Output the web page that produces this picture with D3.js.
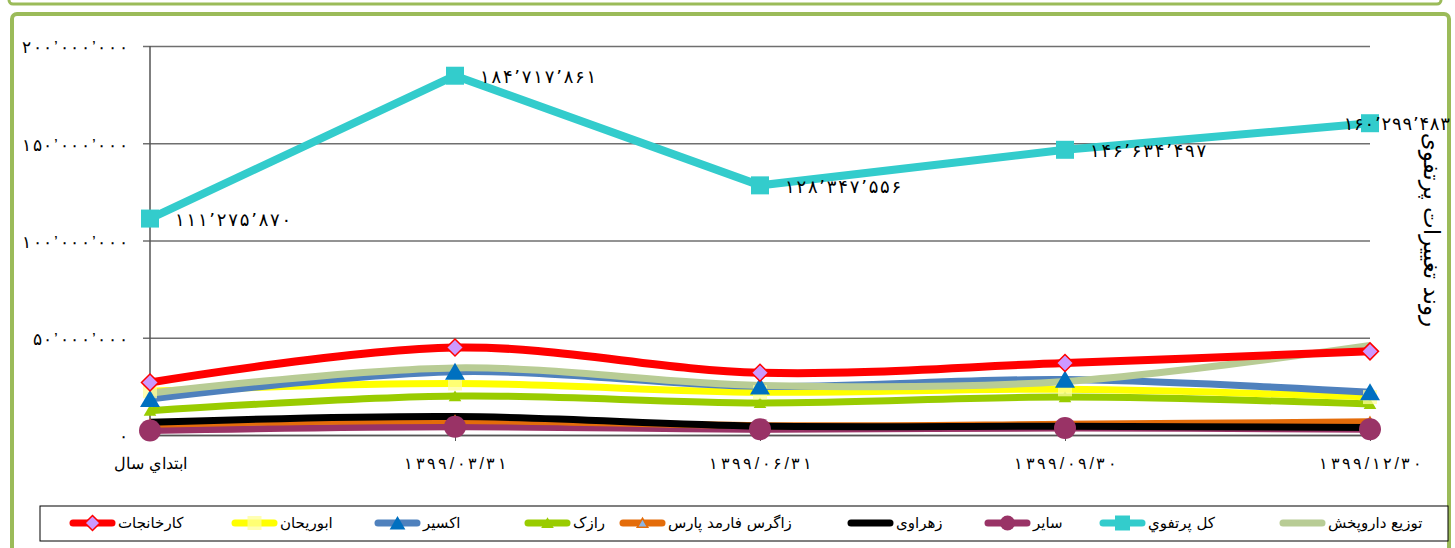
<!DOCTYPE html>
<html>
<head>
<meta charset="utf-8">
<script src="https://cdn.jsdelivr.net/npm/d3@7"></script>
<style>
  body { margin: 0; background: #fff; }
  svg { display: block; font-family: "DejaVu Sans", sans-serif; }
</style>
</head>
<body>
<svg id="chart" width="1455" height="548"></svg>
<script>
// Data (values in rials)
var categories = ["ابتداي سال", "۱۳۹۹/۰۳/۳۱", "۱۳۹۹/۰۶/۳۱", "۱۳۹۹/۰۹/۳۰", "۱۳۹۹/۱۲/۳۰"];
var seriesNames = ["کارخانجات", "ابوریحان", "اکسیر", "رازک", "زاگرس فارمد پارس", "زهراوی", "سایر", "کل پرتفوي", "توزیع داروپخش"];

var karkhanejat = [27000000, 45000000, 32000000, 37000000, 43000000];
var abourihan   = [22500000, 26500000, 22000000, 23500000, 19500000];
var exir        = [18500000, 32500000, 25000000, 28500000, 22000000];
var razak       = [12500000, 20000000, 16500000, 19500000, 16000000];
var zagros      = [5500000, 7500000, 4800000, 5500000, 6800000];
var zahravi     = [6500000, 9500000, 4600000, 4500000, 3800000];
var sayer       = [2300000, 4200000, 3000000, 3600000, 3000000];
var kolPortfoy  = [111275870, 184717861, 128347556, 146634497, 160299483];
var daroupakhsh = [21500000, 34500000, 25500000, 27500000, 46000000];

var yTicks = [0, 50000000, 100000000, 150000000, 200000000];
var yTitle = "روند تغییرات پرتفوی";

var seriesValues = [karkhanejat, abourihan, exir, razak, zagros, zahravi, sayer, kolPortfoy, daroupakhsh];

// Styles for each series (same order as seriesNames)
var styles = [
    { color: "#FF0000", width: 8, marker: "diamond", msize: 17, mfill: "#CC99FF", mstroke: "#FF0000" },
    { color: "#FFFF00", width: 7, marker: "square", msize: 14, mfill: "#FFFF99", mstroke: "none", mop: 0.75 },
    { color: "#4F81BD", width: 7, marker: "triangle", msize: 19, mfill: "#0070C0", mstroke: "none" },
    { color: "#99CC00", width: 7, marker: "triangle", msize: 12, mfill: "#99CC00", mstroke: "none" },
    { color: "#E46C0A", width: 7, marker: "triangle", msize: 10, mfill: "#8DB4E2", mstroke: "#E46C0A" },
    { color: "#000000", width: 7, marker: null },
    { color: "#993366", width: 7, marker: "circle", msize: 22, mfill: "#993366", mstroke: "none" },
    { color: "#33CCCC", width: 8, marker: "square", msize: 18, mfill: "#33CCCC", mstroke: "none" },
    { color: "#B8CC95", width: 7, marker: null }
];

// Persian digits
var faDigits = "۰۱۲۳۴۵۶۷۸۹";
function toFa(n) {
    return d3.format(",")(n).replace(/\d/g, function (c) { return faDigits[+c]; }).replace(/,/g, "’");
}

// letter-spacing is ignored for Arabic-script digits, so widen with textLength
function spread(sel, factor) {
    sel.each(function () {
        var len = this.getComputedTextLength();
        if (len > 12) {
            d3.select(this).attr("textLength", len * factor).attr("lengthAdjust", "spacing");
        }
    });
}

var svg = d3.select("#chart");

// Frames
svg.append("rect")
    .attr("x", 9).attr("y", -30).attr("width", 1432).attr("height", 34)
    .attr("rx", 4)
    .attr("fill", "none").attr("stroke", "#9BBB59").attr("stroke-width", 3);
svg.append("rect")
    .attr("x", 12).attr("y", 14).attr("width", 1437).attr("height", 560)
    .attr("rx", 5)
    .attr("fill", "#fff").attr("stroke", "#9BBB59").attr("stroke-width", 4);

// Scales
var x = d3.scalePoint().domain(categories).range([150, 1370]);
var y = d3.scaleLinear().domain([0, 200000000]).range([435, 46]);

// Gridlines + y labels
var yAxis = d3.axisLeft(y).tickValues(yTicks).tickSize(-(1370 - 143)).tickFormat(toFa).tickPadding(15);
var gy = svg.append("g").attr("transform", "translate(143,0)").call(yAxis);
gy.select(".domain").remove();
gy.selectAll(".tick line").attr("stroke", "#6f6f6f").attr("stroke-width", 1.5);
gy.selectAll(".tick text")
    .attr("fill", "#000")
    .style("font-size", "17px")
    .attr("dy", "0.4em")
    .call(spread, 1.2);

// Vertical axis line
svg.append("line")
    .attr("x1", 150).attr("x2", 150).attr("y1", 46).attr("y2", 435)
    .attr("stroke", "#555").attr("stroke-width", 1.5);

// X axis
var xAxis = d3.axisBottom(x).tickSize(6).tickSizeOuter(0).tickPadding(17);
var gx = svg.append("g").attr("transform", "translate(0,435)").call(xAxis);
gx.select(".domain").attr("stroke", "#555").attr("stroke-width", 1.5);
gx.selectAll(".tick line").attr("stroke", "#555");
gx.selectAll(".tick text")
    .attr("fill", "#000")
    .style("font-size", "16px");
gx.selectAll(".tick text").filter(function (d, i) { return i > 0; }).call(spread, 1.27);

// Series data
var series = seriesNames.map(function (name, i) {
    return {
        name: name,
        style: styles[i],
        points: seriesValues[i].map(function (v, j) { return { cat: categories[j], value: v }; })
    };
});

var smooth = d3.line()
    .curve(d3.curveCatmullRom)
    .x(function (d) { return x(d.cat); })
    .y(function (d) { return y(d.value); });
var straight = d3.line()
    .x(function (d) { return x(d.cat); })
    .y(function (d) { return y(d.value); });

function byName(n) { return series.find(function (s) { return s.name === n; }); }

// Draw order (back to front)
var lineOrder = ["سایر", "زاگرس فارمد پارس", "زهراوی", "رازک", "ابوریحان", "اکسیر", "توزیع داروپخش", "کارخانجات", "کل پرتفوي"];
var markerOrder = ["زاگرس فارمد پارس", "سایر", "رازک", "ابوریحان", "اکسیر", "کارخانجات", "کل پرتفوي"];

function markerPath(type, s) {
    var h = s / 2;
    if (type === "diamond") return "M0," + (-h) + "L" + h + ",0L0," + h + "L" + (-h) + ",0Z";
    if (type === "square") return "M" + (-h) + "," + (-h) + "h" + s + "v" + s + "h" + (-s) + "Z";
    if (type === "triangle") return "M0," + (-h * 0.95) + "L" + (h * 1.05) + "," + (h * 0.85) + "L" + (-h * 1.05) + "," + (h * 0.85) + "Z";
    if (type === "circle") return "M" + (-h) + ",0A" + h + "," + h + " 0 1,0 " + h + ",0A" + h + "," + h + " 0 1,0 " + (-h) + ",0Z";
    return "";
}

lineOrder.map(byName).forEach(function (s) {
    svg.append("path")
        .attr("d", s.name === "کل پرتفوي" ? straight(s.points) : smooth(s.points))
        .attr("fill", "none")
        .attr("stroke", s.style.color)
        .attr("stroke-width", s.style.width)
        .attr("stroke-linejoin", "round");
});

markerOrder.map(byName).forEach(function (s) {
    svg.selectAll(null)
        .data(s.points)
        .enter()
        .append("path")
        .attr("transform", function (d) { return "translate(" + x(d.cat) + "," + y(d.value) + ")"; })
        .attr("d", markerPath(s.style.marker, s.style.msize))
        .attr("fill", s.style.mfill)
        .attr("fill-opacity", s.style.mop || 1)
        .attr("stroke", s.style.mstroke)
        .attr("stroke-width", 1.5);
});

// Data labels for total portfolio
var total = byName("کل پرتفوي");
var labels = svg.selectAll(null)
    .data(total.points)
    .enter()
    .append("text")
    .attr("y", function (d) { return y(d.value); })
    .attr("dy", "0.4em")
    .style("font-size", "18px")
    .text(function (d) { return toFa(d.value); });
labels.filter(function (d, i) { return i < 4; })
    .attr("x", function (d) { return x(d.cat) + 25; })
    .call(spread, 1.18);
// last label sits over its marker, pushed against the right edge
labels.filter(function (d, i) { return i === 4; })
    .attr("x", function (d) { return x(d.cat) + 80; })
    .attr("text-anchor", "end")
    .call(spread, 1.08);

// Right title
svg.append("text")
    .attr("transform", "translate(1424,230) rotate(90)")
    .attr("text-anchor", "middle")
    .style("font-size", "23px")
    .text(yTitle);

// Legend
svg.append("rect")
    .attr("x", 40).attr("y", 506).attr("width", 1408).attr("height", 35)
    .attr("fill", "#fff").attr("stroke", "#000").attr("stroke-width", 1);

var legendX = [70, 232, 375, 525, 620, 848, 985, 1100, 1280];
var legend = svg.selectAll(".legend-item")
    .data(series)
    .enter()
    .append("g")
    .attr("class", "legend-item")
    .attr("transform", function (d, i) { return "translate(" + legendX[i] + ",523)"; });

legend.append("line")
    .attr("x1", 3).attr("x2", 42)
    .attr("stroke", function (d) { return d.style.color; })
    .attr("stroke-width", 7)
    .attr("stroke-linecap", "round");

legend.filter(function (d) { return d.style.marker; })
    .append("path")
    .attr("transform", "translate(22.5,0)")
    .attr("d", function (d) { return markerPath(d.style.marker, Math.min(d.style.msize, 15)); })
    .attr("fill", function (d) { return d.style.mfill; })
    .attr("fill-opacity", function (d) { return d.style.mop || 1; })
    .attr("stroke", function (d) { return d.style.mstroke; })
    .attr("stroke-width", 1.5);

legend.append("text")
    .attr("x", 48)
    .attr("dy", "0.35em")
    .style("font-size", "15px")
    .text(function (d) { return d.name; });
</script>
</body>
</html>
